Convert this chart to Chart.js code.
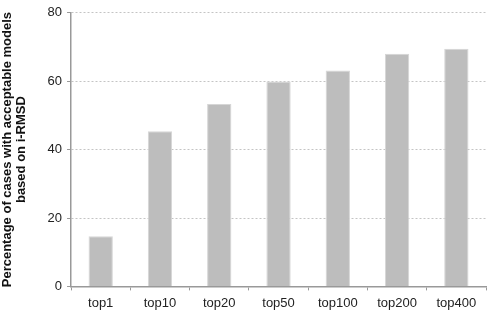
<!DOCTYPE html>
<html>
<head>
<meta charset="utf-8">
<script src="https://cdn.jsdelivr.net/npm/chart.js@4"></script>
<style>
  html, body { margin: 0; padding: 0; background: #fff; }
  #wrap { width: 492px; height: 322px; }
</style>
</head>
<body>
<div id="wrap"><canvas id="grafico"></canvas></div>
<script>
const categorias = ['top1', 'top10', 'top20', 'top50', 'top100', 'top200', 'top400'];
const porcentajes = [14.7, 45.4, 53.3, 59.9, 63.1, 68.0, 69.5];
const ticksY = [0, 20, 40, 60, 80];

const data = {
  labels: categorias,
  datasets: [{
    label: 'Porcentaje',
    data: porcentajes,
    backgroundColor: '#bdbdbd',
    borderColor: '#d6d6d6',
    borderWidth: 1,
    categoryPercentage: 1.0,
    barPercentage: 0.41
  }]
};

const config = {
  type: 'bar',
  data: data,
  options: {
    responsive: true,
    maintainAspectRatio: false,
    animation: false,
    layout: { padding: { top: 5, right: 6, bottom: 6, left: 0 } },
    plugins: {
      legend: { display: false },
      tooltip: { enabled: false }
    },
    scales: {
      y: {
        min: 0,
        max: 80,
        afterBuildTicks: (axis) => { axis.ticks = ticksY.map(v => ({ value: v })); },
        ticks: {
          color: '#222',
          font: { family: 'Liberation Sans, Arial', size: 13 },
          padding: 5
        },
        grid: {
          color: (ctx) => ctx.tick && ctx.tick.value === 0 ? 'rgba(0,0,0,0)' : '#c4c4c4',
          tickColor: '#999',
          tickLength: 4,
          lineWidth: 1
        },
        border: { color: '#999', width: 1.5, dash: [2, 2] },
        title: {
          display: true,
          text: ['Percentage of cases with acceptable models', 'based on i-RMSD'],
          color: '#111',
          font: { family: 'Liberation Sans, Arial', size: 13, weight: 'bold', lineHeight: 1.1 },
          padding: { top: 0, bottom: 14 }
        }
      },
      x: {
        offset: true,
        ticks: {
          color: '#222',
          font: { family: 'Liberation Sans, Arial', size: 13 },
          padding: 5,
          maxRotation: 0
        },
        grid: {
          offset: true,
          drawOnChartArea: false,
          drawTicks: true,
          tickLength: 4,
          color: '#999'
        },
        border: { color: '#999', width: 1.5 }
      }
    }
  }
};

window.addEventListener('DOMContentLoaded', () => {
  const ctx = document.getElementById('grafico').getContext('2d');
  new Chart(ctx, config);
});
</script>
</body>
</html>
